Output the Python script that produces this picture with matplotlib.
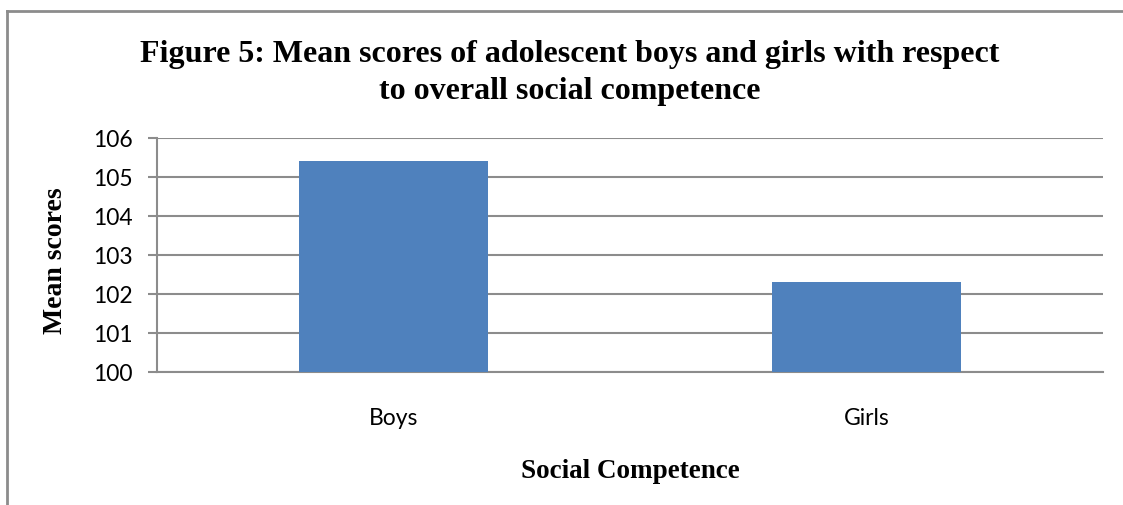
import matplotlib.pyplot as plt
from matplotlib.lines import Line2D

categories = ["Boys", "Girls"]
mean_scores = [105.42, 102.31]
y_ticks = [100, 101, 102, 103, 104, 105, 106]

TITLE = "Figure 5: Mean scores of adolescent boys and girls with respect\nto overall social competence"
BAR_COLOR = "#4f81bd"
GRID_COLOR = "#8c8c8c"

fig = plt.figure(figsize=(11.23, 5.06), dpi=100)
W, H = 1123, 506
# axes box in pixel terms: left 157, right 1103, top 139, bottom 373
ax = fig.add_axes([157 / W, 1 - 373 / H, (1103 - 157) / W, (373 - 139) / H])

ax.bar(range(len(categories)), mean_scores, width=0.4, color=BAR_COLOR,
       bottom=0, zorder=3)
ax.set_xlim(-0.5, len(categories) - 0.5)
ax.set_ylim(y_ticks[0], y_ticks[-1])
ax.set_yticks(y_ticks)
ax.set_xticks(range(len(categories)))
ax.set_xticklabels(categories)

for lbl in ax.get_xticklabels() + ax.get_yticklabels():
    lbl.set_fontfamily("Lato")
    lbl.set_fontsize(16.5)
ax.tick_params(axis="x", length=0, pad=25)
ax.tick_params(axis="y", length=6.5, width=1.5, color=GRID_COLOR, pad=11)

ax.yaxis.grid(True, color=GRID_COLOR, linewidth=1.5, zorder=0)
for side in ["top", "right"]:
    ax.spines[side].set_visible(False)
ax.spines["left"].set_color(GRID_COLOR)
ax.spines["left"].set_linewidth(1.5)
ax.spines["bottom"].set_color(GRID_COLOR)
ax.spines["bottom"].set_linewidth(1.5)

fig.text(570 / W, 1 - 73 / H, TITLE, ha="center", va="center",
         fontfamily="Liberation Serif", fontweight="bold", fontsize=23,
         linespacing=1.38)
fig.text(56 / W, 1 - 261 / H, "Mean scores", rotation=90, ha="center",
         va="center", fontfamily="Liberation Serif", fontweight="bold",
         fontsize=20)
fig.text(630 / W, 1 - 472 / H, "Social Competence", ha="center", va="center",
         fontfamily="Liberation Serif", fontweight="bold", fontsize=19.5)

# outer chart border, running off the right and bottom edges
fig.add_artist(Line2D([7 / W, 7 / W], [0, 1 - 12 / H], transform=fig.transFigure,
                      color=GRID_COLOR, linewidth=2))
fig.add_artist(Line2D([7 / W, 1], [1 - 12 / H, 1 - 12 / H], transform=fig.transFigure,
                      color=GRID_COLOR, linewidth=2))

fig.savefig("out.png", dpi=100)
